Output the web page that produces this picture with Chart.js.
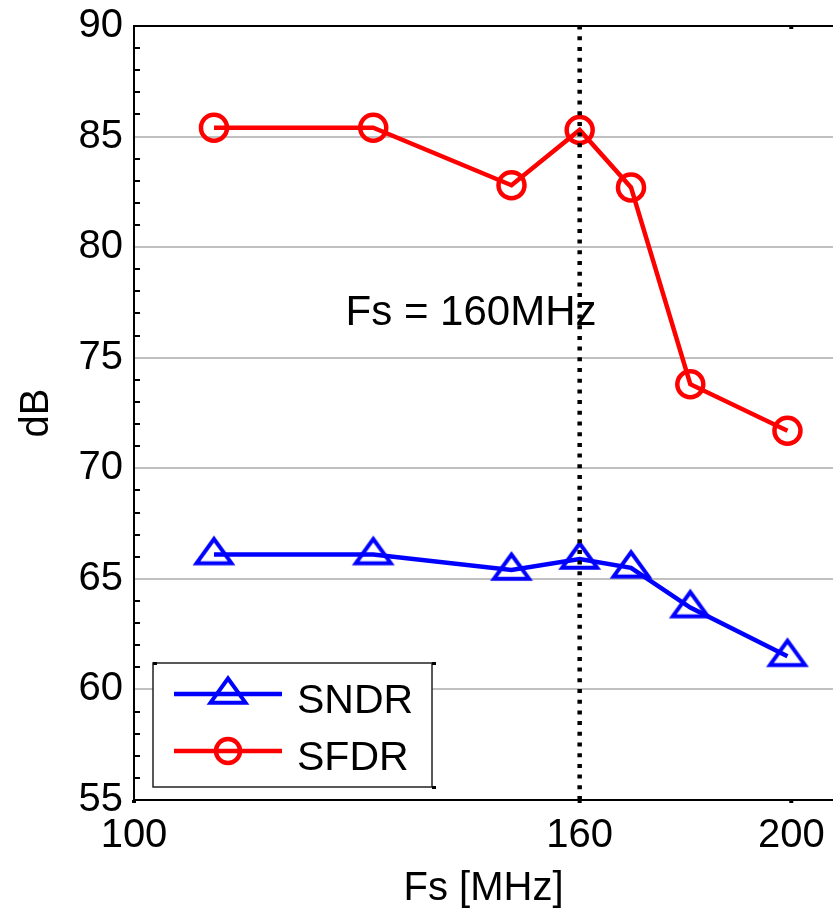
<!DOCTYPE html>
<html>
<head>
<meta charset="utf-8">
<title>SNDR / SFDR vs Fs</title>
<script src="https://cdn.jsdelivr.net/npm/chart.js@4.4.1/dist/chart.umd.min.js"></script>
<style>
  html, body { margin: 0; padding: 0; background: #ffffff; }
  #wrap { width: 833px; height: 910px; }
</style>
</head>
<body>
<div id="wrap"><canvas id="chart" width="833" height="910"></canvas></div>
<script>
// Sampling frequency sweep (MHz) and measured dynamic performance (dB)
const FS_MHZ  = [108.8, 128.7, 148.9, 160, 168.9, 179.8, 199.2];
const SNDR_DB = [66.1, 66.1, 65.4, 65.9, 65.5, 63.7, 61.5];
const SFDR_DB = [85.4, 85.4, 82.8, 85.3, 82.7, 73.8, 71.7];

// Axis setup
const X_MIN = 100;
const X_MAX = 209;
const X_TICKS = [100, 160, 200];
const Y_MIN = 55;
const Y_MAX = 90;
const Y_STEP = 5;

// Nominal sampling rate marker and its note
const FS_NOMINAL = 160;
const NOTE_TEXT = 'Fs = 160MHz';
const NOTE_X = 125;
const NOTE_Y = 77;

const FONT = '"Liberation Sans", Arial, Helvetica, sans-serif';
Chart.defaults.font.family = FONT;
Chart.defaults.color = '#000000';

function makeTriangle(color) {
  const c = document.createElement('canvas');
  c.width = 50; c.height = 50;
  const g = c.getContext('2d');
  g.strokeStyle = color;
  g.lineWidth = 4;
  g.lineJoin = 'miter';
  g.beginPath();
  g.moveTo(25, 25 - 15.5);
  g.lineTo(25 + 17.5, 25 + 8.7);
  g.lineTo(25 - 17.5, 25 + 8.7);
  g.closePath();
  g.stroke();
  return c;
}
const blueTriangle = makeTriangle('#0000ff');

const toPoints = (xs, ys) => xs.map((x, i) => ({ x: x, y: ys[i] }));

// Axis decorations: minor y ticks, top frame line, short x ticks, note
const axisFrame = {
  id: 'axisFrame',
  beforeDatasetsDraw(chart) {
    const { ctx, chartArea: a, scales: { x, y } } = chart;
    ctx.save();
    ctx.strokeStyle = '#000';
    ctx.lineWidth = 2;
    for (let v = Y_MIN + 1; v < Y_MAX; v++) {
      if (v % Y_STEP === 0) continue;
      const py = Math.round(y.getPixelForValue(v));
      ctx.beginPath();
      ctx.moveTo(a.left, py);
      ctx.lineTo(a.left + 6, py);
      ctx.stroke();
    }
    // top frame
    ctx.beginPath();
    ctx.moveTo(a.left - 1, a.top);
    ctx.lineTo(a.right, a.top);
    ctx.stroke();
    // short x ticks on top and bottom
    ctx.fillStyle = '#000';
    X_TICKS.forEach(v => {
      const px = x.getPixelForValue(v);
      ctx.fillRect(px - 2, a.bottom, 4, 3);
      if (v !== X_MIN) ctx.fillRect(px - 2, a.top, 4, 3);
    });
    // note text
    ctx.font = '42px ' + FONT;
    ctx.textAlign = 'left';
    ctx.textBaseline = 'middle';
    ctx.fillText(NOTE_TEXT, x.getPixelForValue(NOTE_X), y.getPixelForValue(NOTE_Y));
    ctx.restore();
  }
};

// Boxed legend in the lower-left corner of the plot
const boxedLegend = {
  id: 'boxedLegend',
  afterDraw(chart) {
    const { ctx } = chart;
    const bx = 153, by = 663, bw = 279, bh = 124;
    ctx.save();
    ctx.fillStyle = '#ffffff';
    ctx.fillRect(bx, by, bw, bh);
    ctx.strokeStyle = '#222222';
    ctx.lineWidth = 1.5;
    ctx.strokeRect(bx, by, bw, bh);
    ctx.fillStyle = '#000';
    ctx.fillRect(bx, by - 1, 4, 3);
    ctx.fillRect(bx + bw, by - 1, 4, 3);
    ctx.fillRect(bx + bw, by + bh - 1, 4, 3);

    const items = chart.data.datasets.filter(d => d.inLegend);
    items.forEach((d, i) => {
      const ly = 694 + i * 57;
      ctx.strokeStyle = d.borderColor;
      ctx.lineWidth = d.borderWidth;
      ctx.beginPath();
      ctx.moveTo(174, ly);
      ctx.lineTo(282, ly);
      ctx.stroke();
      if (d.pointStyle instanceof HTMLCanvasElement) {
        ctx.drawImage(d.pointStyle, 228 - d.pointStyle.width / 2, ly - d.pointStyle.height / 2);
      } else {
        ctx.lineWidth = d.pointBorderWidth;
        ctx.beginPath();
        ctx.arc(228, ly, d.pointRadius - 1, 0, Math.PI * 2);
        ctx.stroke();
      }
      ctx.fillStyle = '#000';
      ctx.font = '41px ' + FONT;
      ctx.textAlign = 'left';
      ctx.textBaseline = 'alphabetic';
      ctx.fillText(d.label, 297, ly + 19);
    });
    ctx.restore();
  }
};

new Chart(document.getElementById('chart'), {
  type: 'line',
  data: {
    datasets: [
      {
        label: 'Fs marker',
        data: [{ x: FS_NOMINAL, y: Y_MIN }, { x: FS_NOMINAL, y: Y_MAX }],
        borderColor: '#000000',
        borderWidth: 4.5,
        borderDash: [4, 6.7],
        borderCapStyle: 'butt',
        pointRadius: 0,
        order: 0,
        inLegend: false
      },
      {
        label: 'SNDR',
        data: toPoints(FS_MHZ, SNDR_DB),
        borderColor: '#0000ff',
        borderWidth: 4.5,
        pointStyle: blueTriangle,
        pointRadius: 18,
        pointBorderWidth: 4,
        pointBorderColor: '#0000ff',
        pointBackgroundColor: 'rgba(0,0,0,0)',
        order: 1,
        inLegend: true
      },
      {
        label: 'SFDR',
        data: toPoints(FS_MHZ, SFDR_DB),
        borderColor: '#ff0000',
        borderWidth: 4.5,
        pointStyle: 'circle',
        pointRadius: 13,
        pointBorderWidth: 4.5,
        pointBorderColor: '#ff0000',
        pointBackgroundColor: 'rgba(0,0,0,0)',
        order: 2,
        inLegend: true
      }
    ]
  },
  options: {
    responsive: false,
    animation: false,
    layout: { autoPadding: false, padding: { top: 26, left: 0, right: 0, bottom: 0 } },
    plugins: {
      legend: { display: false },
      tooltip: { enabled: false }
    },
    scales: {
      x: {
        type: 'logarithmic',
        min: X_MIN,
        max: X_MAX,
        afterBuildTicks: s => { s.ticks = X_TICKS.map(v => ({ value: v })); },
        afterFit: s => { s.height = 110; s.paddingLeft = 0; s.paddingRight = 0; },
        ticks: {
          autoSkip: false,
          maxRotation: 0,
          padding: 12,
          font: { size: 40 },
          color: '#000',
          callback: v => String(v)
        },
        grid: { display: false, drawTicks: false },
        border: { display: true, color: '#000', width: 2 },
        title: {
          display: true,
          text: 'Fs [MHz]',
          color: '#000',
          font: { size: 40, lineHeight: 1 },
          padding: { top: 0, bottom: 1 }
        }
      },
      y: {
        min: Y_MIN,
        max: Y_MAX,
        afterFit: s => { s.width = 134; s.paddingTop = 0; s.paddingBottom = 0; },
        ticks: {
          stepSize: Y_STEP,
          padding: 11,
          font: { size: 40 },
          color: '#000'
        },
        grid: { color: '#c0c0c0', lineWidth: 2, drawTicks: false },
        border: { display: true, color: '#000', width: 2 },
        title: {
          display: true,
          text: 'dB',
          color: '#000',
          font: { size: 40, lineHeight: 1 },
          padding: { top: 17, bottom: 0 }
        }
      }
    }
  },
  plugins: [axisFrame, boxedLegend]
});
</script>
</body>
</html>
